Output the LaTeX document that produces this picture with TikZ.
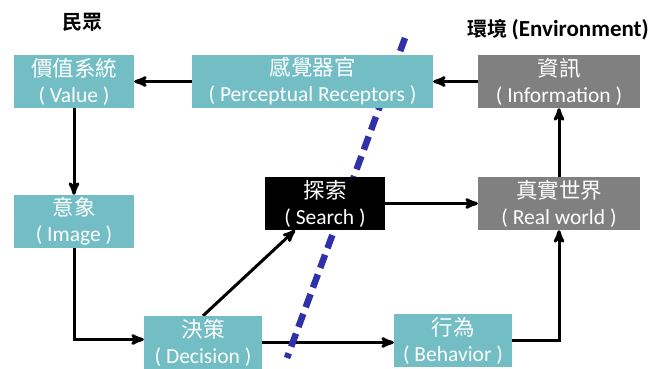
\documentclass[tikz,border=0pt]{standalone}
\usepackage{fontspec}
\setmainfont{Carlito}
\newfontfamily\cjk{Noto Sans CJK TC}[BoldFont={Noto Sans CJK TC Bold}]
\usetikzlibrary{arrows,positioning,backgrounds}

\definecolor{tealbox}{RGB}{114,190,196}
\definecolor{greybox}{RGB}{128,128,128}
\definecolor{cutline}{RGB}{48,48,168}

\tikzset{
  box/.style={minimum height=53pt, inner sep=0pt, align=center, text=white,
    font=\fontsize{21.5}{26}\selectfont},
  people/.style={box, fill=tealbox},
  world/.style={box, fill=greybox},
  flow/.style={->, line width=3pt},
  title/.style={font=\fontsize{20}{24}\selectfont\bfseries},
}

\begin{document}
\begin{tikzpicture}[x=1pt,y=-1pt,>=stealth']
\useasboundingbox (0,0) rectangle (660,368);

% two sides of the boundary
\node[title] (people) at (82,22) {\cjk 民眾};
\node[title] (env) at (558,30) {{\cjk 環境} {\fontsize{23}{24}\selectfont(Environment)}};

% the boxes
\node[people, minimum width=120pt] (value) at (74,81.5) {{\cjk 價值系統}\\( Value )};
\node[people, minimum width=241pt] (percept) at (312.5,81.5) {{\cjk 感覺器官}\\( Perceptual Receptors )};
\node[world, minimum width=162pt] (info) at (559,81.5) {{\cjk 資訊}\\( Information )};
\node[people, minimum width=120pt] (image) at (74,221.5) {{\cjk 意象}\\( Image )};
\node[box, fill=black, minimum width=120pt] (search) at (325,203.5) {{\cjk 探索}\\( Search )};
\node[world, minimum width=162pt] (real) at (559,203.5) {{\cjk 真實世界}\\( Real world )};
\node[people, minimum width=118pt] (decision) at (203,342.5) {{\cjk 決策}\\( Decision )};
\node[people, minimum width=118pt] (behavior) at (453,340.5) {{\cjk 行為}\\( Behavior )};

\begin{pgfonlayer}{background}
  % connectors
  \draw[flow] (percept) -- (value);
  \draw[flow] (info) -- (percept);
  \draw[flow] (value) -- (image);
  \draw[flow] (image.south) |- ([yshift=3pt]decision.west);
  \draw[flow] (decision.north) -- ([xshift=-30pt]search.south);
  \draw[flow] (search) -- (real);
  \draw[flow] (decision.east) -- ([yshift=-2pt]behavior.west);
  \draw[flow] (behavior.east) -| (real.south);
  \draw[flow] (real) -- (info);
  % dashed cut across the picture
  \coordinate (cuttop) at (405,38);
  \coordinate (cutbot) at (287,358);
  \draw[cutline, line width=6.5pt, dash pattern=on 14pt off 7pt] (cuttop) -- (cutbot);
\end{pgfonlayer}
\end{tikzpicture}
\end{document}
